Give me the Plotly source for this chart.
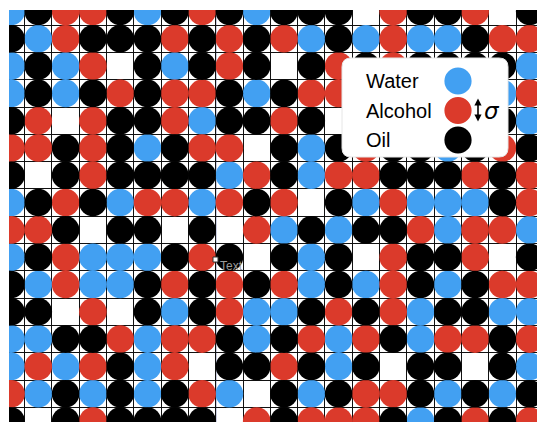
import plotly.graph_objects as go

# ---- data -------------------------------------------------------------
species = ["Water", "Alcohol", "Oil"]
species_codes = ["W", "A", "O"]
species_colors = ["#42A0F2", "#DB3A2B", "#000000"]

# lattice occupancy, one string per row (top to bottom), "." = empty site
lattice_rows = [
    "WOAAOWOAOWOOO.AOOA.O",
    "OWAOOOAOAOAWOWAWWOAA",
    "WOWA.OWOAO.OAOAOOOOW",
    "WOWOAOAAOWOAAAWOAOWA",
    "OA.AOOAWOOAO.OAWOAOW",
    "AAOAOWOAA.OWOAOOWOAO",
    "O.OAOOOOWAOWAAOOOAOA",
    "WOAOWAAWAOA.OWAWWWOA",
    "AAO.OO.O.AWOWOOAWAAW",
    "WOAWWWOAO.OWO.AOOA.O",
    "OWAWWOAOAOAWOWAOWOAA",
    "OO.A.OWOAWWOAOAWOOWW",
    "WWOOAWAAOWOAWAOWAAOA",
    "WAWAOWA.OOAOWO.OO.OW",
    "AWOWOWOAW.OWOAAOWOWO",
    "O.OAOOOO.AOAAAOWOAOA",
]
n_rows = len(lattice_rows)
n_cols = len(lattice_rows[0])

# ---- figure -----------------------------------------------------------
BODY = 8                      # default page margin of the html body
W, H = 545 - BODY, 422 - BODY
ML, MT = 9, 10                # plot-area corner in page pixels
PW, PH = 545 - ML, 422 - MT
CELL = 27.3

fig = go.Figure()
for name, code, color in zip(species, species_codes, species_colors):
    xs, ys = [], []
    for r, row in enumerate(lattice_rows):
        for c, ch in enumerate(row):
            if ch == code:
                xs.append(c)
                ys.append(r)
    fig.add_trace(go.Scatter(
        x=xs, y=ys, mode="markers", name=name, showlegend=False,
        marker=dict(symbol="circle", size=27.6, color=color, line=dict(width=0)),
        hoverinfo="skip",
    ))

x0 = -2 / CELL
x1 = x0 + PW / CELL
y0 = -1.5 / CELL
y1 = y0 + PH / CELL

grid_x = [c - 0.5 for c in range(n_cols + 1)]
grid_y = [r - 0.5 for r in range(n_rows + 1)]

fig.update_xaxes(range=[x0, x1], tickvals=grid_x, showticklabels=False, ticks="",
                 showgrid=True, gridcolor="#111111", gridwidth=1,
                 zeroline=False, showline=False)
fig.update_yaxes(range=[y1, y0], tickvals=grid_y, showticklabels=False, ticks="",
                 showgrid=True, gridcolor="#111111", gridwidth=1,
                 zeroline=False, showline=False)


def px(x):
    return (x - ML) / PW


def py(y):
    return 1 - (y - MT) / PH


shapes = []
# highlighted grid line
shapes.append(dict(type="line", xref="x", yref="paper", x0=7.5, x1=7.5, y0=0, y1=1,
                   line=dict(color="#2c3f8c", width=1), layer="below"))

# legend box (rounded)
bx0, bx1, by0, by1, rad = 342, 508, 58, 157, 9
path = (
    f"M {px(bx0 + rad)} {py(by0)} L {px(bx1 - rad)} {py(by0)} "
    f"Q {px(bx1)} {py(by0)} {px(bx1)} {py(by0 + rad)} "
    f"L {px(bx1)} {py(by1 - rad)} Q {px(bx1)} {py(by1)} {px(bx1 - rad)} {py(by1)} "
    f"L {px(bx0 + rad)} {py(by1)} Q {px(bx0)} {py(by1)} {px(bx0)} {py(by1 - rad)} "
    f"L {px(bx0)} {py(by0 + rad)} Q {px(bx0)} {py(by0)} {px(bx0 + rad)} {py(by0)} Z"
)
shapes.append(dict(type="path", xref="paper", yref="paper", path=path,
                   fillcolor="white", line=dict(color="#e6e6e6", width=1), layer="above"))

legend_y = [81, 110.5, 140]
circ_x, circ_r = 458, 13.6
annotations = []
for name, color, ly in zip(species, species_colors, legend_y):
    shapes.append(dict(type="circle", xref="paper", yref="paper",
                       x0=px(circ_x - circ_r), x1=px(circ_x + circ_r),
                       y0=py(ly + circ_r), y1=py(ly - circ_r),
                       fillcolor=color, line=dict(width=0), layer="above"))
    annotations.append(dict(xref="paper", yref="paper", x=px(364), y=py(ly),
                            xanchor="left", yanchor="middle", showarrow=False,
                            text=name, font=dict(family="Liberation Sans, Arial", size=20, color="black")))

# double-headed arrow next to Alcohol
ax_ = 478
shapes.append(dict(type="line", xref="paper", yref="paper", x0=px(ax_), x1=px(ax_),
                   y0=py(103), y1=py(117), line=dict(color="black", width=1.6), layer="above"))
shapes.append(dict(type="path", xref="paper", yref="paper",
                   path=f"M {px(ax_)} {py(98.5)} L {px(ax_ - 3.6)} {py(105.5)} L {px(ax_ + 3.6)} {py(105.5)} Z",
                   fillcolor="black", line=dict(width=0), layer="above"))
shapes.append(dict(type="path", xref="paper", yref="paper",
                   path=f"M {px(ax_)} {py(121.5)} L {px(ax_ - 3.6)} {py(114.5)} L {px(ax_ + 3.6)} {py(114.5)} Z",
                   fillcolor="black", line=dict(width=0), layer="above"))
annotations.append(dict(xref="paper", yref="paper", x=px(482), y=py(110.5),
                        xanchor="left", yanchor="middle", showarrow=False,
                        text="<i>σ</i>", font=dict(family="DejaVu Sans", size=23, color="black")))

# stray "Text" placeholder
shapes.append(dict(type="rect", xref="paper", yref="paper",
                   x0=px(213), x1=px(218), y0=py(262), y1=py(257),
                   fillcolor="white", line=dict(color="#333333", width=1), layer="above"))
annotations.append(dict(xref="paper", yref="paper", x=px(217.5), y=py(266),
                        xanchor="left", yanchor="middle", showarrow=False,
                        text="Text", font=dict(family="Liberation Sans, Arial", size=12, color="#9a9a9a")))

fig.update_layout(
    width=W, height=H,
    margin=dict(l=ML - BODY, r=0, t=MT - BODY, b=0, pad=0),
    paper_bgcolor="white", plot_bgcolor="white",
    shapes=shapes, annotations=annotations,
    showlegend=False,
)

fig.write_html("out.html", config={"displayModeBar": False})
